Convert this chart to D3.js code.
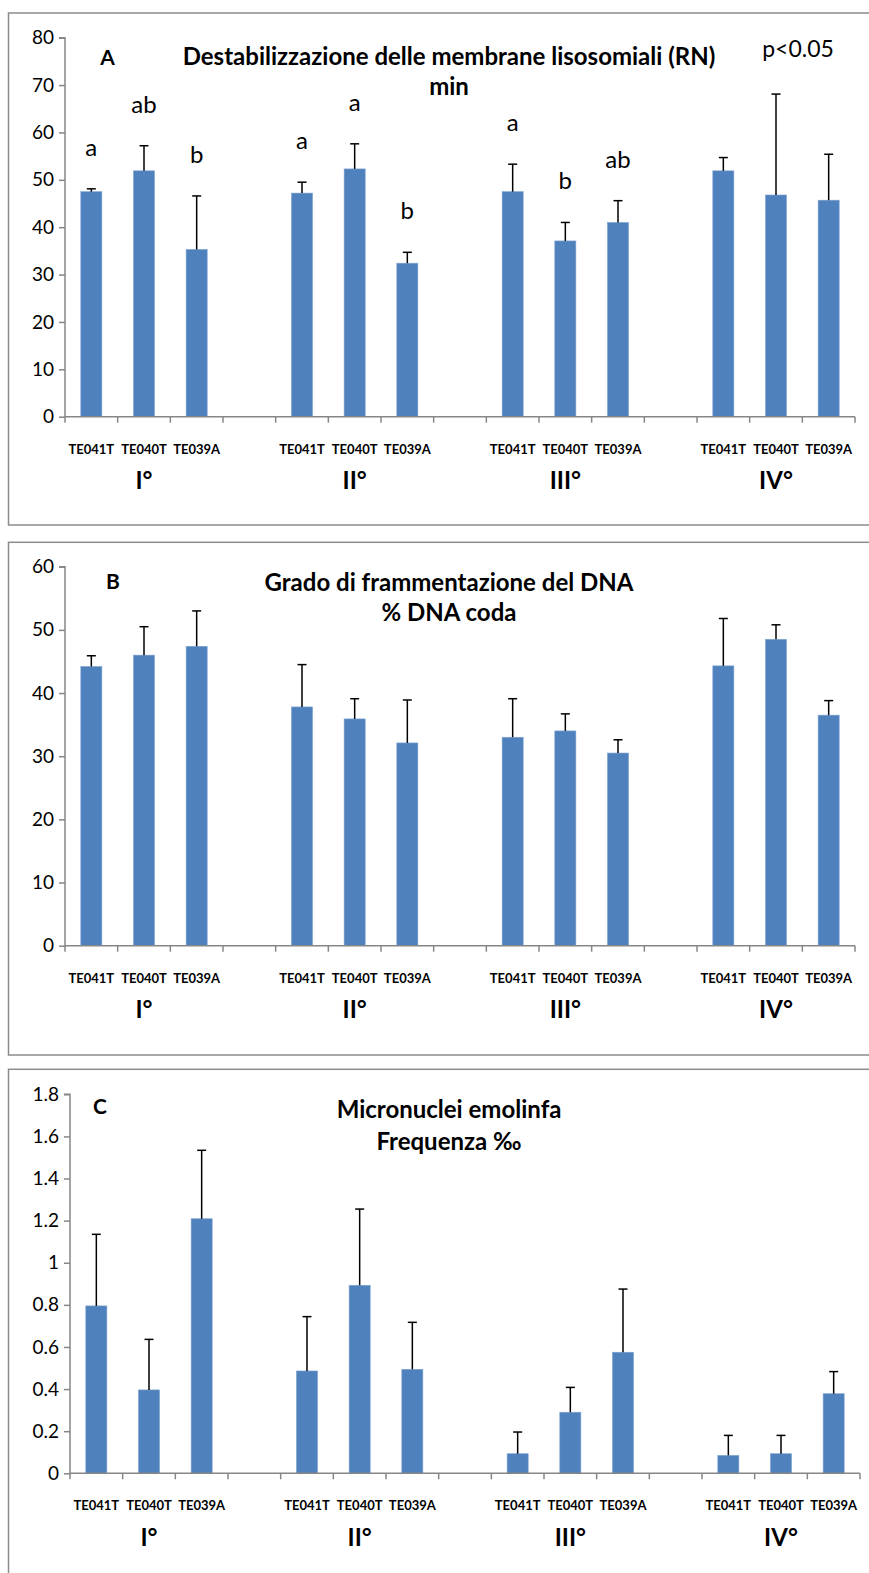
<!DOCTYPE html>
<html><head><meta charset="utf-8">
<script src="https://cdn.jsdelivr.net/npm/d3@7"></script>
<style>body{margin:0;background:#fff} svg{display:block;font-family:Lato,"Open Sans",sans-serif}</style>
</head><body>
<svg id="chart" width="869" height="1573"></svg>
<script>
// ---- data ----
const groups = ["I°", "II°", "III°", "IV°"];
const samples = ["TE041T", "TE040T", "TE039A"];

const meanA = [47.5, 51.9, 35.3, 47.2, 52.3, 32.4, 47.5, 37.1, 41.0, 51.9, 46.8, 45.7];
const errA  = [0.6, 5.3, 11.3, 2.3, 5.3, 2.3, 5.8, 3.9, 4.6, 2.8, 21.3, 9.7];
const lettersA = ["a", "ab", "b", "a", "a", "b", "a", "b", "ab", "", "", ""];
const ticksA = [0, 10, 20, 30, 40, 50, 60, 70, 80];

const meanB = [44.2, 46.0, 47.4, 37.8, 35.9, 32.1, 33.0, 34.0, 30.5, 44.3, 48.5, 36.5];
const errB  = [1.7, 4.5, 5.6, 6.7, 3.2, 6.8, 6.1, 2.7, 2.1, 7.5, 2.3, 2.3];
const ticksB = [0, 10, 20, 30, 40, 50, 60];

const meanC = [0.795, 0.396, 1.209, 0.486, 0.893, 0.494, 0.093, 0.290, 0.575, 0.085, 0.093, 0.378];
const errC  = [0.34, 0.24, 0.325, 0.258, 0.362, 0.223, 0.103, 0.118, 0.30, 0.095, 0.087, 0.105];
const ticksC = [0, 0.2, 0.4, 0.6, 0.8, 1, 1.2, 1.4, 1.6, 1.8];

const titleA = ["Destabilizzazione delle membrane lisosomiali (RN)", "min"];
const titleB = ["Grado di frammentazione del DNA", "% DNA coda"];
const titleC = ["Micronuclei emolinfa", "Frequenza ‰"];
const noteA = "p<0.05";

// ---- layout ----
const svg = d3.select("#chart");
const AXIS = "#868686", BAR = "#4F81BD";

const slots = [];
groups.forEach((g, gi) => {
  samples.forEach(s => slots.push(g + "|" + s));
  if (gi < groups.length - 1) slots.push(g + "|gap");
});

const panels = [
  {label: "A", means: meanA, errs: errA, letters: lettersA, ticks: ticksA, max: 80, fmt: d => d,
   top: 13, bottom: 525, x0: 65, x1: 855, y0: 416.7, y1: 37.7, title: titleA, titleY: [55, 85],
   labelXY: [107.5, 56], note: noteA},
  {label: "B", means: meanB, errs: errB, letters: null, ticks: ticksB, max: 60, fmt: d => d,
   top: 542.3, bottom: 1055, x0: 65, x1: 855, y0: 945.7, y1: 566.7, title: titleB, titleY: [581.7, 611.7],
   labelXY: [113, 580.7]},
  {label: "C", means: meanC, errs: errC, letters: null, ticks: ticksC, max: 1.8, fmt: d3.format("~g"),
   top: 1069.3, bottom: 1600, x0: 70, x1: 860, y0: 1473.3, y1: 1094.3, title: titleC, titleY: [1108.3, 1140],
   labelXY: [100, 1105.7]}
];

panels.forEach(p => {
  const g = svg.append("g");
  g.append("rect").attr("x", 8.5).attr("y", p.top).attr("width", 880).attr("height", p.bottom - p.top)
    .attr("fill", "none").attr("stroke", "#8c8c8c").attr("stroke-width", 1.5);

  const x = d3.scaleBand().domain(slots).range([p.x0, p.x1]).padding(0);
  const y = d3.scaleLinear().domain([0, p.max]).range([p.y0, p.y1]);
  const bw = x.bandwidth() * 0.4;

  // y axis
  const ya = g.append("g").attr("transform", `translate(${p.x0},0)`)
    .call(d3.axisLeft(y).tickValues(p.ticks).tickSize(6).tickPadding(5).tickFormat(p.fmt));
  ya.selectAll("path,line").attr("stroke", AXIS).attr("stroke-width", 1.5);
  ya.select("path").attr("d", `M-6,${y(p.max)}H0V${y(0)}`);
  ya.selectAll("text").attr("font-size", 19).attr("fill", "#000").attr("font-family", "Lato");

  // bars
  const data = p.means.map((m, i) => ({m, e: p.errs[i], key: groups[Math.floor(i / 3)] + "|" + samples[i % 3],
    letter: p.letters ? p.letters[i] : ""}));
  g.selectAll("rect.bar").data(data).join("rect").attr("class", "bar")
    .attr("x", d => x(d.key) + (x.bandwidth() - bw) / 2).attr("width", bw)
    .attr("y", d => y(d.m)).attr("height", d => y(0) - y(d.m))
    .attr("fill", BAR).attr("stroke", "#7fa3d1").attr("stroke-width", 0.6);

  // error bars (plus only)
  const eb = g.selectAll("g.err").data(data).join("g").attr("class", "err");
  eb.append("line").attr("x1", d => x(d.key) + x.bandwidth() / 2).attr("x2", d => x(d.key) + x.bandwidth() / 2)
    .attr("y1", d => y(d.m)).attr("y2", d => y(d.m + d.e)).attr("stroke", "#000").attr("stroke-width", 1.5);
  eb.append("line").attr("x1", d => x(d.key) + x.bandwidth() / 2 - 4.5).attr("x2", d => x(d.key) + x.bandwidth() / 2 + 4.5)
    .attr("y1", d => y(d.m + d.e)).attr("y2", d => y(d.m + d.e)).attr("stroke", "#000").attr("stroke-width", 1.5);

  // significance letters
  if (p.letters) {
    g.selectAll("text.let").data(data.filter(d => d.letter)).join("text").attr("class", "let")
      .attr("x", d => x(d.key) + x.bandwidth() / 2).attr("y", d => y(d.m + d.e) - 33)
      .attr("text-anchor", "middle").attr("font-size", 24).text(d => d.letter);
  }

  // x axis
  g.append("line").attr("x1", p.x0).attr("x2", p.x1).attr("y1", p.y0).attr("y2", p.y0)
    .attr("stroke", AXIS).attr("stroke-width", 1.5);
  const bounds = d3.range(slots.length + 1).map(i => p.x0 + i * x.step());
  g.selectAll("line.xt").data(bounds).join("line").attr("class", "xt")
    .attr("x1", d => d).attr("x2", d => d).attr("y1", p.y0).attr("y2", p.y0 + 6)
    .attr("stroke", AXIS).attr("stroke-width", 1.5);

  // category labels
  g.selectAll("text.cat").data(data).join("text").attr("class", "cat")
    .attr("x", d => x(d.key) + x.bandwidth() / 2).attr("y", p.y0 + 32)
    .attr("text-anchor", "middle").attr("dominant-baseline", "central")
    .attr("font-size", 13).attr("font-weight", "bold").text((d, i) => samples[i % 3]);

  // group labels
  g.selectAll("text.grp").data(groups).join("text").attr("class", "grp")
    .attr("x", gname => (x(gname + "|" + samples[0]) + x(gname + "|" + samples[2]) + x.bandwidth()) / 2)
    .attr("y", p.y0 + 63).attr("text-anchor", "middle").attr("dominant-baseline", "central")
    .attr("font-size", 24).attr("font-weight", "bold").text(d => d);

  // titles
  p.title.forEach((t, i) => g.append("text").attr("x", 449).attr("y", p.titleY[i])
    .attr("text-anchor", "middle").attr("dominant-baseline", "central")
    .attr("font-size", 24).attr("font-weight", "bold").text(t));
  g.append("text").attr("x", p.labelXY[0]).attr("y", p.labelXY[1]).attr("text-anchor", "middle")
    .attr("dominant-baseline", "central").attr("font-size", 21).attr("font-weight", "bold").text(p.label);
  if (p.note) g.append("text").attr("x", 798).attr("y", 48).attr("text-anchor", "middle")
    .attr("dominant-baseline", "central").attr("font-size", 23).text(p.note);
});
</script>
</body></html>
